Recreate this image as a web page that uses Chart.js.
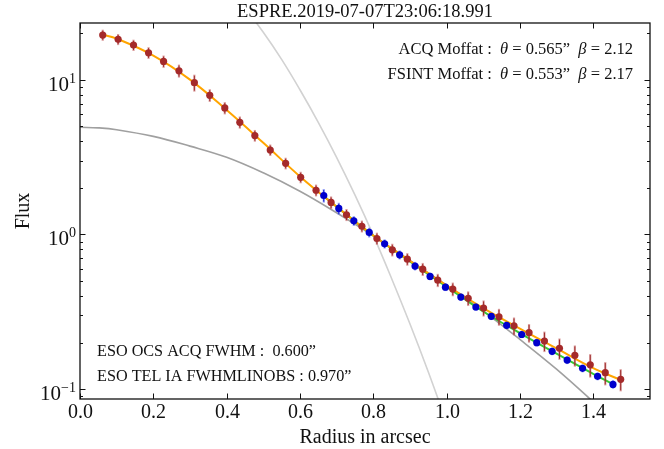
<!DOCTYPE html>
<html>
<head>
<meta charset="utf-8">
<script src="https://cdn.jsdelivr.net/npm/chart.js@4.4.1/dist/chart.umd.min.js"></script>
<style>
body { margin: 0; background: #fff; }
#wrap { width: 664px; height: 449px; }
</style>
</head>
<body>
<div id="wrap"><canvas id="psfChart" width="664" height="449"></canvas></div>
<script>
// labels
var chartTitle = "ESPRE.2019-07-07T23:06:18.991";
var xTitle = "Radius in arcsec";
var yTitle = "Flux";
var xTickVals = [0, 0.2, 0.4, 0.6, 0.8, 1.0, 1.2, 1.4];
var yTickVals = [0.1, 1, 10];

// ACQ profile (red points)
var acqX = [0.062, 0.104, 0.146, 0.187, 0.228, 0.270, 0.312, 0.354, 0.395, 0.436, 0.477, 0.519, 0.561, 0.602, 0.644,
  0.685, 0.727, 0.769, 0.810, 0.852, 0.893, 0.935, 0.976, 1.017, 1.059, 1.101, 1.143, 1.184, 1.225, 1.267,
  1.308, 1.350, 1.392, 1.433, 1.475];
var acqY = [19.4, 18.2, 16.7, 14.9, 13.1, 11.4, 9.56, 7.92, 6.56, 5.30, 4.35, 3.51, 2.88, 2.34, 1.93,
  1.61, 1.34, 1.13, 0.942, 0.796, 0.693, 0.597, 0.507, 0.444, 0.387, 0.335, 0.294, 0.257, 0.232, 0.205,
  0.184, 0.166, 0.144, 0.128, 0.116];
var acqErr = [1.6, 1.5, 1.4, 1.3, 1.2, 1.1, 1.2, 0.75, 0.6, 0.48, 0.38, 0.3, 0.25, 0.2, 0.17,
  0.15, 0.12, 0.1, 0.085, 0.075, 0.065, 0.058, 0.05, 0.045, 0.042, 0.04, 0.037, 0.034, 0.032, 0.031,
  0.029, 0.026, 0.025, 0.022, 0.019];

// FSINT profile (blue points)
var fsintX = [0.665, 0.706, 0.747, 0.789, 0.831, 0.872, 0.914, 0.955, 0.997, 1.039,
  1.080, 1.122, 1.164, 1.205, 1.246, 1.288, 1.329, 1.371, 1.412, 1.454];
var fsintY = [1.785, 1.472, 1.224, 1.03, 0.870, 0.739, 0.625, 0.536, 0.457, 0.394,
  0.340, 0.296, 0.259, 0.226, 0.200, 0.176, 0.1545, 0.1366, 0.1213, 0.1076];
var fsintErr = [0.18, 0.13, 0.09, 0.075, 0.06, 0.05, 0.04, 0.03, 0.026, 0.022,
  0.019, 0.016, 0.014, 0.012, 0.011, 0.01, 0.009, 0.008, 0.007, 0.007];

// Moffat fits
var acqFitX = [0.062, 0.1, 0.2, 0.3, 0.4, 0.5, 0.6, 0.7, 0.8, 0.9, 1.0, 1.1, 1.2, 1.3, 1.4, 1.475];
var acqFitY = [19.5, 18.4, 14.3, 10.0, 6.36, 3.91, 2.37, 1.51, 0.985, 0.676, 0.47, 0.335, 0.247, 0.184, 0.137, 0.115];
var fsintFitX = [0.665, 0.7, 0.8, 0.9, 1.0, 1.1, 1.2, 1.3, 1.4, 1.454];
var fsintFitY = [1.77, 1.51, 0.985, 0.67, 0.46, 0.318, 0.231, 0.170, 0.126, 0.108];

// seeing profiles (grey curves)
var telX = [0, 0.05, 0.1, 0.2, 0.3, 0.4, 0.5, 0.6, 0.7, 0.8, 0.9, 1.0, 1.1, 1.2, 1.3, 1.4, 1.5];
var telY = [4.92, 4.88, 4.75, 4.30, 3.72, 3.15, 2.50, 1.90, 1.38, 0.98, 0.68, 0.47, 0.32, 0.21, 0.135, 0.083, 0.05];
var ocsX = [0.44, 0.5, 0.55, 0.6, 0.65, 0.7, 0.75, 0.8, 0.85, 0.9, 0.95, 1.0];
var ocsY = [31.3, 20.2, 13.5, 8.6, 5.3, 3.15, 1.80, 0.99, 0.52, 0.265, 0.13, 0.061];

function pts(xs, ys) {
  return xs.map(function (x, i) { return { x: x, y: ys[i] }; });
}

var SERIF = "'Liberation Serif', 'DejaVu Serif', serif";

function drawErr(chart, xs, ys, errs, light, dark) {
  var ctx = chart.ctx, sx = chart.scales.x, sy = chart.scales.y;
  ctx.save();
  for (var i = 0; i < xs.length; i++) {
    var px = sx.getPixelForValue(xs[i]);
    var top = sy.getPixelForValue(ys[i] + errs[i]);
    var bot = sy.getPixelForValue(ys[i] - errs[i]);
    ctx.strokeStyle = light;
    ctx.lineWidth = 2.2;
    ctx.beginPath(); ctx.moveTo(px, top); ctx.lineTo(px, bot); ctx.stroke();
    ctx.strokeStyle = dark;
    ctx.lineWidth = 1;
    ctx.beginPath(); ctx.moveTo(px, top + 1); ctx.lineTo(px, bot - 1); ctx.stroke();
  }
  ctx.restore();
}

function drawRich(ctx, parts, x, y, align, size) {
  var total = 0;
  parts.forEach(function (p) {
    ctx.font = (p.i ? "italic " : "") + size + "px " + SERIF;
    total += ctx.measureText(p.t).width;
  });
  var cx = align === "right" ? x - total : x;
  ctx.textAlign = "left";
  parts.forEach(function (p) {
    ctx.font = (p.i ? "italic " : "") + size + "px " + SERIF;
    ctx.fillText(p.t, cx, y);
    cx += ctx.measureText(p.t).width;
  });
}

var axesPlugin = {
  id: "axesPlugin",
  beforeDatasetDraw: function (chart, args) {
    if (args.index === 0) drawErr(chart, acqX, acqY, acqErr, "rgba(190,80,80,0.55)", "rgba(150,30,30,0.9)");
    if (args.index === 1) drawErr(chart, fsintX, fsintY, fsintErr, "rgba(70,90,240,0.55)", "rgba(0,0,200,0.9)");
  },
  afterDraw: function (chart) {
    var ctx = chart.ctx, a = chart.chartArea, sx = chart.scales.x, sy = chart.scales.y;
    ctx.save();
    ctx.fillStyle = "#111";
    ctx.strokeStyle = "#111";

    // frame
    ctx.lineWidth = 1.3;
    ctx.strokeRect(a.left, a.top, a.right - a.left, a.bottom - a.top);

    // x ticks (bottom + top, inward)
    ctx.lineWidth = 1;
    ctx.font = "20px " + SERIF;
    ctx.textAlign = "center";
    ctx.textBaseline = "alphabetic";
    xTickVals.forEach(function (v) {
      var px = Math.round(sx.getPixelForValue(v)) + 0.5;
      ctx.beginPath();
      ctx.moveTo(px, a.bottom); ctx.lineTo(px, a.bottom - 5.5);
      ctx.moveTo(px, a.top); ctx.lineTo(px, a.top + 5.5);
      ctx.stroke();
      ctx.fillText(v.toFixed(1), px, 418);
    });

    // y major ticks + labels
    yTickVals.forEach(function (v) {
      var py = Math.round(sy.getPixelForValue(v)) + 0.5;
      ctx.beginPath();
      ctx.moveTo(a.left, py); ctx.lineTo(a.left + 5.5, py);
      ctx.moveTo(a.right, py); ctx.lineTo(a.right - 5.5, py);
      ctx.stroke();
      var e = Math.round(Math.log10(v));
      var sup = e < 0 ? "\u2212" + (-e) : String(e);
      ctx.font = "14px " + SERIF;
      var supW = ctx.measureText(sup).width;
      ctx.textAlign = "left";
      ctx.fillText(sup, 76 - supW, py + 2.5);
      ctx.font = "21px " + SERIF;
      ctx.textAlign = "right";
      ctx.fillText("10", 76 - supW, py + 10);
    });

    // y minor ticks
    for (var d = -2; d <= 1; d++) {
      for (var m = 2; m <= 9; m++) {
        var v = m * Math.pow(10, d);
        if (v < sy.min || v > sy.max) continue;
        var py = Math.round(sy.getPixelForValue(v)) + 0.5;
        ctx.beginPath();
        ctx.moveTo(a.left, py); ctx.lineTo(a.left + 3, py);
        ctx.moveTo(a.right, py); ctx.lineTo(a.right - 3, py);
        ctx.stroke();
      }
    }

    // titles
    ctx.font = "18.5px " + SERIF;
    ctx.textAlign = "center";
    ctx.fillText(chartTitle, (a.left + a.right) / 2, 17);
    ctx.font = "20px " + SERIF;
    ctx.fillText(xTitle, (a.left + a.right) / 2, 443);
    ctx.save();
    ctx.translate(29, (a.top + a.bottom) / 2);
    ctx.rotate(-Math.PI / 2);
    ctx.fillText(yTitle, 0, 0);
    ctx.restore();

    // annotations
    drawRich(ctx, [{ t: "ACQ Moffat :  " }, { t: "\u03B8", i: true }, { t: " = 0.565\u201D  " }, { t: "\u03B2", i: true }, { t: " = 2.12" }], 633, 54, "right", 16.5);
    drawRich(ctx, [{ t: "FSINT Moffat :  " }, { t: "\u03B8", i: true }, { t: " = 0.553\u201D  " }, { t: "\u03B2", i: true }, { t: " = 2.17" }], 633, 79, "right", 16.5);
    drawRich(ctx, [{ t: "ESO OCS ACQ FWHM :  0.600\u201D" }], 97, 356, "left", 16.2);
    drawRich(ctx, [{ t: "ESO TEL IA FWHMLINOBS : 0.970\u201D" }], 97, 381, "left", 16.2);
    ctx.restore();
  }
};

var ctxP = document.getElementById("psfChart").getContext("2d");
var psfChart = new Chart(ctxP, {
  type: "scatter",
  data: {
    datasets: [
      {
        label: "ACQ",
        data: pts(acqX, acqY),
        backgroundColor: "#a52a2a",
        borderColor: "#a52a2a",
        pointRadius: 3.6,
        borderWidth: 0
      },
      {
        label: "FSINT",
        data: pts(fsintX, fsintY),
        backgroundColor: "#0000cd",
        borderColor: "#0000cd",
        pointRadius: 3.6,
        borderWidth: 0
      },
      {
        label: "ACQ Moffat",
        data: pts(acqFitX, acqFitY),
        showLine: true,
        borderColor: "#ffa500",
        borderWidth: 2,
        pointRadius: 0,
        tension: 0.4
      },
      {
        label: "FSINT Moffat",
        data: pts(fsintFitX, fsintFitY),
        showLine: true,
        borderColor: "#33cc33",
        borderWidth: 2,
        pointRadius: 0,
        tension: 0.4
      },
      {
        label: "TEL IA",
        data: pts(telX, telY),
        showLine: true,
        borderColor: "#a0a0a0",
        borderWidth: 1.6,
        pointRadius: 0,
        tension: 0.4
      },
      {
        label: "OCS ACQ",
        data: pts(ocsX, ocsY),
        showLine: true,
        borderColor: "#d2d2d2",
        borderWidth: 1.6,
        pointRadius: 0,
        tension: 0.4
      }
    ]
  },
  options: {
    responsive: false,
    animation: false,
    devicePixelRatio: 1,
    layout: { padding: { top: 23, right: 14, left: 0, bottom: 0 } },
    plugins: { legend: { display: false }, tooltip: { enabled: false }, title: { display: false } },
    scales: {
      x: {
        type: "linear",
        min: 0,
        max: 1.555,
        grid: { display: false },
        border: { display: false },
        ticks: { display: false },
        afterFit: function (s) { s.height = 50; }
      },
      y: {
        type: "logarithmic",
        min: 0.0866,
        max: 23.2,
        grid: { display: false },
        border: { display: false },
        ticks: { display: false },
        afterFit: function (s) { s.width = 80; }
      }
    }
  },
  plugins: [axesPlugin]
});
</script>
</body>
</html>
